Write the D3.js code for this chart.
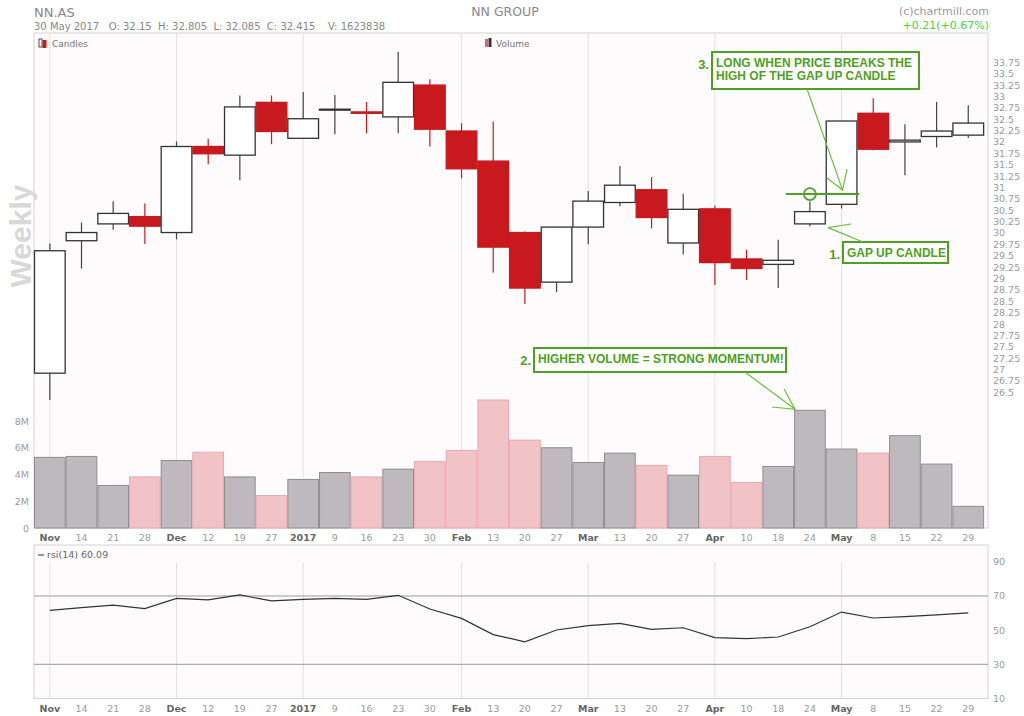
<!DOCTYPE html>
<html>
<head>
<meta charset="utf-8">
<script src="https://cdn.jsdelivr.net/npm/d3@7"></script>
<style>
  body { margin: 0; background: #fff; }
  svg { display: block; }
  .lbl { font-family: "DejaVu Sans", sans-serif; font-size: 9.5px; fill: #9a9a9a; }
  .mon { fill: #666; font-weight: bold; }
  .ann { font-family: "Liberation Sans", Arial, sans-serif; font-weight: bold; fill: #4f9f22; }
</style>
</head>
<body>
<div id="chart"></div>
<script>
// weekly candles NN.AS
const weekLabels = ["Nov","14","21","28","Dec","12","19","27","2017","9","16","23","30","Feb","13","20","27","Mar","13","20","27","Apr","10","18","24","May","8","15","22","29"];
const monthStarts = ["Nov","Dec","2017","Feb","Mar","Apr","May"];
const opens  = [26.92,29.83,30.20,30.36,30.01,31.90,31.71,32.87,32.08,32.71,32.66,32.55,33.25,32.24,31.58,30.01,28.92,30.13,30.67,30.95,29.78,30.53,29.43,29.31,30.20,30.63,32.63,32.00,32.12,32.15];
const highs  = [29.77,30.23,30.70,30.65,32.01,32.07,33.02,33.02,33.10,33.03,32.88,33.98,33.38,32.41,32.45,30.03,30.13,30.92,31.47,31.23,30.86,30.60,29.63,29.85,30.69,32.46,32.96,32.39,32.88,32.805];
const lows   = [26.33,29.22,30.07,29.76,29.86,31.51,31.16,31.95,32.08,32.17,32.19,32.19,31.90,31.20,29.13,28.44,28.70,29.75,30.59,30.10,29.53,28.86,28.97,28.79,30.14,30.54,31.82,31.27,31.88,32.085];
const closes = [29.61,30.01,30.43,30.15,31.90,31.74,32.77,32.23,32.51,32.72,32.63,33.31,32.28,31.41,29.69,28.79,30.13,30.70,31.05,30.34,30.52,29.35,29.22,29.40,30.47,32.46,31.84,32.04,32.24,32.415];
const volumes = [5.28,5.35,3.18,3.82,5.05,5.67,3.82,2.43,3.63,4.15,3.82,4.40,4.98,5.80,9.57,6.57,6.00,4.90,5.60,4.68,3.95,5.35,3.40,4.60,8.80,5.90,5.60,6.90,4.78,1.62];
const rsi = [61.6,63.2,64.6,62.6,68.6,67.7,70.6,67.1,68.0,68.6,68.0,70.4,62.4,56.9,47.4,43.2,50.1,52.6,54.0,50.5,51.4,45.6,45.0,46.0,52.0,60.6,57.1,57.9,58.9,60.09];
const priceTicks = d3.range(26.5, 33.76, 0.25);
const volTicks = [0, 2, 4, 6, 8];
const rsiTicks = [10, 30, 50, 70, 90];

const W = 1024, H = 716;
const left = 34, right = 988;
const mainTop = 33, volBase = 528;
const rsiTop = 545, rsiBot = 698.5;
const green = "#4f9f22";

const svg = d3.select("#chart").append("svg").attr("width", W).attr("height", H);

const idx = d3.range(weekLabels.length);
const x = d3.scaleBand().domain(idx).range([left, left + 31.67 * idx.length]).padding(0);
const cx = i => x(i) + x.bandwidth() / 2;
const yP = d3.scaleLinear().domain([26.5, 33.75]).range([392.3, 62.3]);
const yV = d3.scaleLinear().domain([0, 8]).range([volBase, 421]);
const yR = d3.scaleLinear().domain([10, 90]).range([rsiBot, 561.8]);

// backgrounds
svg.append("rect").attr("x", left).attr("y", mainTop).attr("width", right - left).attr("height", volBase - mainTop)
  .attr("fill", "#fdfbfc").attr("stroke", "#d4d4d4");
svg.append("rect").attr("x", left).attr("y", rsiTop).attr("width", right - left).attr("height", rsiBot - rsiTop)
  .attr("fill", "#fdfbfc").attr("stroke", "#d4d4d4");

// header
svg.append("text").attr("x", 34).attr("y", 17).attr("class", "lbl").style("font-size", "13px").style("fill", "#888").text("NN.AS");
svg.append("text").attr("x", 34).attr("y", 30).attr("class", "lbl").style("font-size", "10px").style("fill", "#888")
  .attr("xml:space", "preserve").text("30 May 2017   O: 32.15  H: 32.805  L: 32.085  C: 32.415    V: 1623838");
svg.append("text").attr("x", 505).attr("y", 16).attr("text-anchor", "middle").attr("class", "lbl").style("font-size", "12.5px").style("fill", "#888").text("NN GROUP");
svg.append("text").attr("x", 989).attr("y", 15).attr("text-anchor", "end").attr("class", "lbl").style("font-size", "11px").style("fill", "#999").text("(c)chartmill.com");
svg.append("text").attr("x", 989).attr("y", 29).attr("text-anchor", "end").attr("class", "lbl").style("font-size", "11px").style("fill", "#44d044").text("+0.21(+0.67%)");

// watermark
svg.append("text").attr("transform", "translate(31,236) rotate(-90)").attr("text-anchor", "middle")
  .style("font", "bold 30px 'Liberation Sans', Arial, sans-serif").style("fill", "#d8d8d8").text("Weekly");

// month gridlines
const monthIdx = idx.filter(i => monthStarts.includes(weekLabels[i]));
[[mainTop, volBase], [rsiTop + 18, rsiBot]].forEach(([a, b]) => {
  svg.append("g").selectAll("line").data(monthIdx).join("line")
    .attr("x1", cx).attr("x2", cx).attr("y1", a).attr("y2", b)
    .attr("stroke", "#e2e0e2").attr("stroke-width", 1);
});

// legends
const leg = svg.append("g");
leg.append("rect").attr("x", 39).attr("y", 39).attr("width", 3).attr("height", 8).attr("fill", "#fff").attr("stroke", "#222").attr("stroke-width", 0.8);
leg.append("rect").attr("x", 42.5).attr("y", 40).attr("width", 4).attr("height", 8).attr("fill", "#c8191e");
leg.append("text").attr("x", 52).attr("y", 47).attr("class", "lbl").style("font-size", "9px").style("fill", "#777").text("Candles");
leg.append("rect").attr("x", 485).attr("y", 39).attr("width", 3).attr("height", 8).attr("fill", "#e06070");
leg.append("rect").attr("x", 488.5).attr("y", 38).attr("width", 3).attr("height", 9).attr("fill", "#333");
leg.append("text").attr("x", 496).attr("y", 47).attr("class", "lbl").style("font-size", "9px").style("fill", "#777").text("Volume");

// volume bars
const up = i => closes[i] >= opens[i];
svg.append("g").selectAll("rect").data(idx).join("rect")
  .attr("x", i => x(i) + 0.5).attr("width", x.bandwidth() - 1)
  .attr("y", i => yV(volumes[i])).attr("height", i => yV(0) - yV(volumes[i]))
  .attr("fill", i => up(i) ? "#bdb9bc" : "#f1c3c7")
  .attr("stroke", i => up(i) ? "#8f8d8f" : "#eaa9b0").attr("stroke-width", 1);

// price axis
svg.append("g").selectAll("text").data(priceTicks).join("text")
  .attr("class", "lbl").attr("x", 993).attr("y", d => yP(d) + 3.5)
  .text(d => d3.format("")(+d.toFixed(2)));

// volume axis
svg.append("g").selectAll("text").data(volTicks).join("text")
  .attr("class", "lbl").attr("x", 29).attr("y", d => yV(d) + 3.5).attr("text-anchor", "end")
  .text(d => d === 0 ? "0" : d + "M");

// candles
const cg = svg.append("g");
cg.selectAll("line").data(idx).join("line")
  .attr("x1", cx).attr("x2", cx).attr("y1", i => yP(highs[i])).attr("y2", i => yP(lows[i]))
  .attr("stroke", i => up(i) ? "#444" : "#c8191e").attr("stroke-width", 1.2);
cg.selectAll("rect").data(idx).join("rect")
  .attr("x", i => x(i) + 0.5).attr("width", x.bandwidth() - 1)
  .attr("y", i => yP(Math.max(opens[i], closes[i])))
  .attr("height", i => Math.max(1, Math.abs(yP(opens[i]) - yP(closes[i]))))
  .attr("fill", i => up(i) ? "#fff" : "#c8191e")
  .attr("stroke", i => up(i) ? "#333" : "#c8191e").attr("stroke-width", 1.3);

// x labels
[volBase + 13, rsiBot + 13].forEach(yy => {
  svg.append("g").selectAll("text").data(idx).join("text")
    .attr("class", i => monthStarts.includes(weekLabels[i]) ? "lbl mon" : "lbl")
    .attr("x", cx).attr("y", yy).attr("text-anchor", "middle")
    .text(i => weekLabels[i]);
});

// rsi panel
svg.append("g").selectAll("line").data([30, 70]).join("line")
  .attr("x1", left).attr("x2", right).attr("y1", d => yR(d)).attr("y2", d => yR(d))
  .attr("stroke", "#9c9c9c").attr("stroke-width", 1);
svg.append("g").selectAll("text").data(rsiTicks).join("text")
  .attr("class", "lbl").attr("x", 993).attr("y", d => yR(d) + 3.5).text(d => d);
svg.append("path").datum(idx)
  .attr("d", d3.line().x(cx).y(i => yR(rsi[i])))
  .attr("fill", "none").attr("stroke", "#333").attr("stroke-width", 1.2);
svg.append("line").attr("x1", 38).attr("x2", 44).attr("y1", 555).attr("y2", 555).attr("stroke", "#333");
svg.append("text").attr("x", 47).attr("y", 558).attr("class", "lbl").style("fill", "#666").text("rsi(14) " + rsi[rsi.length - 1]);

// annotations
const ann = svg.append("g");
function box(x0, y0, w, h, lines, num) {
  ann.append("rect").attr("x", x0).attr("y", y0).attr("width", w).attr("height", h)
    .attr("fill", "#fff").attr("stroke", green).attr("stroke-width", 2);
  lines.forEach((t, k) => ann.append("text").attr("class", "ann").attr("x", x0 + 4).attr("y", y0 + 15 + k * 13)
    .style("font-size", "12px").text(t));
  ann.append("text").attr("class", "ann").attr("x", x0 - 3).attr("y", y0 + 17).attr("text-anchor", "end")
    .style("font-size", "13px").text(num);
}
function arrow(x1, y1, x2, y2, a, b) {
  const p = d3.path();
  p.moveTo(x1, y1); p.lineTo(x2, y2);
  p.moveTo(a[0], a[1]); p.lineTo(x2, y2); p.lineTo(b[0], b[1]);
  ann.append("path").attr("d", p.toString()).attr("fill", "none").attr("stroke", "#6cbf3a").attr("stroke-width", 1.2);
}
const gi = 24; // gap up candle
const brk = yP(highs[gi]) - 7.5;
ann.append("line").attr("x1", cx(gi) - 24).attr("x2", cx(gi + 2) - 14).attr("y1", brk).attr("y2", brk)
  .attr("stroke", green).attr("stroke-width", 2);
ann.append("circle").attr("cx", cx(gi)).attr("cy", brk).attr("r", 6).attr("fill", "none").attr("stroke", green).attr("stroke-width", 1.8);

box(712, 52, 207, 37, ["LONG WHEN PRICE BREAKS THE", "HIGH OF THE GAP UP CANDLE"], "3.");
arrow(807, 89, cx(gi + 1) + 1, brk - 4, [827, 178], [847, 169]);

box(843, 242, 105, 21, ["GAP UP CANDLE"], "1.");
arrow(863, 242, cx(gi) + 18, yP(lows[gi]) + 1, [851, 224], [851, 224]);

box(534, 348, 252, 24, ["HIGHER VOLUME = STRONG MOMENTUM!"], "2.");
arrow(745, 372, x(gi) + 1, yV(volumes[gi]) - 1, [772, 407], [784, 389]);
</script>
</body>
</html>
